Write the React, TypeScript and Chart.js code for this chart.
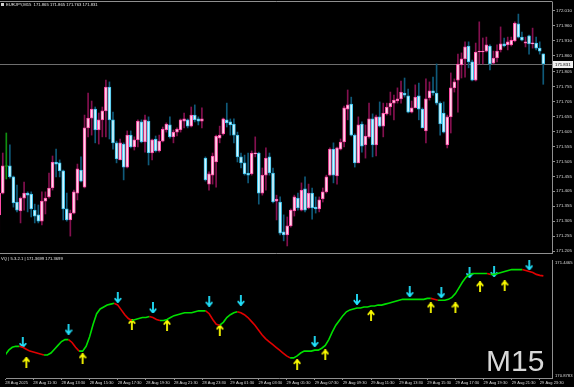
import React, { useEffect, useRef } from "react";
import { Chart, registerables } from "chart.js";
Chart.register(...registerables);

// ---------- DATA ----------
const OPENS = [
  171.326, 171.399, 171.488, 171.490, 171.453, 171.369, 171.339, 171.382, 171.399, 171.396,
  171.342, 171.326, 171.305, 171.372, 171.386, 171.416, 171.503, 171.500, 171.473, 171.346,
  171.309, 171.332, 171.399, 171.476, 171.419, 171.617, 171.650, 171.680, 171.610, 171.644,
  171.674, 171.754, 171.644, 171.567, 171.510, 171.563, 171.486, 171.593, 171.553, 171.577,
  171.637, 171.570, 171.640, 171.533, 171.580, 171.540, 171.573, 171.610, 171.627, 171.587,
  171.603, 171.610, 171.640, 171.644, 171.623, 171.660, 171.647, 171.640, 171.516, 171.429,
  171.459, 171.503, 171.583, 171.597, 171.644, 171.637, 171.630, 171.593, 171.520, 171.500,
  171.466, 171.463, 171.530, 171.533, 171.399, 171.459, 171.520, 171.466, 171.372, 171.369,
  171.269, 171.259, 171.289, 171.339, 171.382, 171.342, 171.413, 171.349, 171.399, 171.352,
  171.346, 171.379, 171.403, 171.459, 171.546, 171.456, 171.546, 171.570, 171.680, 171.697,
  171.593, 171.500, 171.630, 171.560, 171.587, 171.647, 171.560, 171.654, 171.623, 171.664,
  171.687, 171.700, 171.707, 171.714, 171.734, 171.724, 171.670, 171.684, 171.724, 171.680,
  171.607, 171.717, 171.741, 171.734, 171.700, 171.667, 171.560, 171.654, 171.751, 171.777,
  171.828, 171.848, 171.891, 171.838, 171.777, 171.871, 171.871, 171.874, 171.891, 171.834,
  171.851, 171.878, 171.898, 171.895, 171.895, 171.908, 171.965, 171.921, 171.901, 171.925,
  171.898, 171.901, 171.884, 171.865,
];
const HIGHS = [
  171.419, 171.533, 171.600, 171.560, 171.456, 171.426, 171.386, 171.436, 171.403, 171.403,
  171.362, 171.359, 171.403, 171.403, 171.466, 171.523, 171.546, 171.510, 171.476, 171.399,
  171.342, 171.409, 171.496, 171.520, 171.660, 171.734, 171.707, 171.687, 171.667, 171.687,
  171.777, 171.771, 171.670, 171.573, 171.580, 171.567, 171.607, 171.607, 171.587, 171.644,
  171.644, 171.660, 171.654, 171.580, 171.590, 171.593, 171.620, 171.634, 171.654, 171.610,
  171.617, 171.647, 171.667, 171.647, 171.687, 171.694, 171.654, 171.684, 171.520, 171.470,
  171.533, 171.593, 171.623, 171.650, 171.700, 171.647, 171.647, 171.603, 171.533, 171.526,
  171.533, 171.540, 171.587, 171.536, 171.483, 171.550, 171.533, 171.483, 171.392, 171.386,
  171.326, 171.319, 171.346, 171.392, 171.399, 171.433, 171.453, 171.429, 171.416, 171.386,
  171.386, 171.416, 171.459, 171.550, 171.567, 171.553, 171.580, 171.690, 171.744, 171.720,
  171.597, 171.654, 171.637, 171.627, 171.700, 171.664, 171.660, 171.704, 171.700, 171.700,
  171.737, 171.727, 171.751, 171.774, 171.784, 171.747, 171.707, 171.761, 171.767, 171.684,
  171.781, 171.771, 171.787, 171.831, 171.704, 171.704, 171.660, 171.801, 171.781, 171.864,
  171.868, 171.905, 171.905, 171.844, 171.901, 171.972, 171.918, 171.921, 171.895, 171.874,
  171.895, 171.955, 171.918, 171.921, 171.921, 171.972, 171.998, 171.938, 171.921, 171.928,
  171.951, 171.921, 171.905, 171.865,
];
const LOWS = [
  171.269, 171.396, 171.446, 171.449, 171.352, 171.336, 171.299, 171.342, 171.336, 171.319,
  171.299, 171.299, 171.292, 171.329, 171.382, 171.409, 171.453, 171.453, 171.309, 171.305,
  171.255, 171.329, 171.376, 171.436, 171.416, 171.587, 171.593, 171.567, 171.563, 171.587,
  171.587, 171.580, 171.546, 171.500, 171.510, 171.443, 171.483, 171.550, 171.543, 171.553,
  171.567, 171.536, 171.493, 171.510, 171.536, 171.536, 171.570, 171.603, 171.583, 171.567,
  171.590, 171.603, 171.617, 171.617, 171.620, 171.637, 171.627, 171.617, 171.439, 171.409,
  171.429, 171.419, 171.567, 171.593, 171.620, 171.593, 171.567, 171.503, 171.483, 171.459,
  171.433, 171.459, 171.520, 171.362, 171.392, 171.409, 171.459, 171.366, 171.309, 171.259,
  171.239, 171.222, 171.285, 171.322, 171.342, 171.339, 171.336, 171.346, 171.312, 171.332,
  171.336, 171.369, 171.399, 171.456, 171.433, 171.429, 171.543, 171.553, 171.644, 171.590,
  171.486, 171.500, 171.536, 171.516, 171.583, 171.520, 171.523, 171.620, 171.587, 171.660,
  171.660, 171.644, 171.700, 171.700, 171.720, 171.667, 171.667, 171.684, 171.644, 171.617,
  171.567, 171.710, 171.727, 171.694, 171.593, 171.600, 171.550, 171.600, 171.737, 171.670,
  171.784, 171.787, 171.818, 171.774, 171.774, 171.831, 171.831, 171.871, 171.811, 171.831,
  171.838, 171.871, 171.888, 171.878, 171.891, 171.905, 171.918, 171.908, 171.888, 171.864,
  171.884, 171.878, 171.864, 171.763,
];
const CLOSES = [
  171.399, 171.490, 171.488, 171.453, 171.366, 171.342, 171.382, 171.399, 171.392, 171.346,
  171.322, 171.305, 171.372, 171.382, 171.416, 171.503, 171.496, 171.473, 171.346, 171.309,
  171.332, 171.403, 171.480, 171.439, 171.617, 171.650, 171.680, 171.610, 171.644, 171.674,
  171.754, 171.644, 171.567, 171.513, 171.567, 171.486, 171.593, 171.553, 171.577, 171.640,
  171.570, 171.644, 171.533, 171.577, 171.540, 171.573, 171.613, 171.630, 171.587, 171.603,
  171.613, 171.644, 171.647, 171.623, 171.660, 171.644, 171.640, 171.647, 171.443, 171.463,
  171.523, 171.590, 171.593, 171.647, 171.634, 171.627, 171.593, 171.520, 171.500, 171.463,
  171.459, 171.533, 171.533, 171.399, 171.459, 171.516, 171.466, 171.369, 171.379, 171.265,
  171.259, 171.289, 171.342, 171.386, 171.349, 171.409, 171.342, 171.399, 171.349, 171.346,
  171.376, 171.403, 171.453, 171.546, 171.459, 171.550, 171.570, 171.684, 171.694, 171.593,
  171.500, 171.627, 171.556, 171.590, 171.647, 171.560, 171.654, 171.623, 171.667, 171.687,
  171.700, 171.710, 171.714, 171.737, 171.727, 171.670, 171.684, 171.720, 171.680, 171.617,
  171.714, 171.741, 171.734, 171.700, 171.630, 171.603, 171.654, 171.751, 171.771, 171.831,
  171.848, 171.888, 171.838, 171.777, 171.871, 171.874, 171.874, 171.895, 171.831, 171.851,
  171.874, 171.898, 171.891, 171.905, 171.911, 171.968, 171.921, 171.911, 171.905, 171.898,
  171.901, 171.884, 171.874, 171.831,
];

const PRICE_TICKS = [
  172.010, 171.960, 171.910, 171.860, 171.805, 171.755, 171.705, 171.655, 171.605,
  171.555, 171.505, 171.455, 171.405, 171.355, 171.305, 171.255, 171.205,
];

const TIME_TICK_INDEX = [0, 8, 16, 24, 32, 40, 48, 56, 64, 72, 80, 88, 96, 104, 112, 120, 128, 136, 144, 152];
const TIME_LABELS = [
  "28 Aug 2025", "28 Aug 11:30", "28 Aug 13:30", "28 Aug 15:30", "28 Aug 17:30",
  "28 Aug 19:30", "28 Aug 21:30", "28 Aug 23:30", "29 Aug 01:30", "29 Aug 03:30",
  "29 Aug 05:30", "29 Aug 07:30", "29 Aug 09:30", "29 Aug 11:30", "29 Aug 13:30",
  "29 Aug 15:30", "29 Aug 17:30", "29 Aug 19:30", "29 Aug 21:30", "29 Aug 23:30",
];

const VQ = [
  170.9893, 171.0123, 171.0262, 171.0308, 171.0308, 171.0262, 171.0170, 171.0077, 171.0031, 170.9985,
  170.9939, 170.9893, 170.9893, 170.9985, 171.0170, 171.0354, 171.0539, 171.0632, 171.0632, 171.0493,
  171.0262, 171.0077, 171.0077, 171.0308, 171.0770, 171.1370, 171.1878, 171.2109, 171.2202, 171.2294,
  171.2340, 171.2386, 171.2294, 171.2063, 171.1832, 171.1647, 171.1555, 171.1601, 171.1647, 171.1694,
  171.1694, 171.1740, 171.1694, 171.1601, 171.1555, 171.1555, 171.1601, 171.1694, 171.1786, 171.1832,
  171.1878, 171.1924, 171.1924, 171.1924, 171.1971, 171.2017, 171.2017, 171.2017, 171.1878, 171.1601,
  171.1370, 171.1324, 171.1463, 171.1694, 171.1832, 171.1924, 171.1971, 171.1924, 171.1832, 171.1694,
  171.1509, 171.1324, 171.1093, 171.0862, 171.0678, 171.0539, 171.0401, 171.0262, 171.0123, 170.9985,
  170.9846, 170.9754, 170.9754, 170.9846, 170.9985, 171.0077, 171.0077, 171.0077, 171.0123, 171.0123,
  171.0216, 171.0354, 171.0632, 171.1001, 171.1324, 171.1555, 171.1786, 171.1971, 171.2063, 171.2109,
  171.2155, 171.2155, 171.2202, 171.2202, 171.2248, 171.2248, 171.2294, 171.2294, 171.2340, 171.2386,
  171.2433, 171.2479, 171.2525, 171.2571, 171.2571, 171.2571, 171.2571, 171.2571, 171.2571, 171.2571,
  171.2617, 171.2617, 171.2571, 171.2525, 171.2525, 171.2525, 171.2571, 171.2664, 171.2848, 171.3126,
  171.3403, 171.3634, 171.3772, 171.3818, 171.3818, 171.3818, 171.3818, 171.3818, 171.3772, 171.3772,
  171.3818, 171.3865, 171.3911, 171.3957, 171.4003, 171.4003, 171.4003, 171.4003, 171.3957, 171.3911,
  171.3865, 171.3772, 171.3726, 171.3699,
];

const SELL_INDEX = [5, 18, 32, 42, 58, 67, 88, 100, 115, 124, 132, 139, 149];
const SELL_VALUE = [171.0493, 171.1139, 171.2664, 171.2155, 171.2479, 171.2525, 171.0539, 171.2571, 171.2941, 171.2895, 171.3865, 171.3911, 171.4234];
const BUY_INDEX = [6, 22, 36, 46, 61, 83, 91, 104, 121, 128, 135, 142];
const BUY_VALUE = [170.9523, 170.9707, 171.1370, 171.1324, 171.1093, 170.9430, 170.9893, 171.1786, 171.2155, 171.2155, 171.3172, 171.3218];

const IND_MAX = 171.4465;
const IND_MIN = 170.8783;
const IND_TICK_LABELS = ["171.4465", "170.8783"];

// ---------- LAYOUT / STYLE ----------
const W = 574;
const H = 387;
const AXIS_W = 22;
const MAIN_H = 254;
const IND_TOP = 254;
const IND_H = 133;
const X_MIN = 0.225;
const X_MAX = 155.455;
const MAIN_MAX = 172.0384;
const MAIN_MIN = 171.1984;
const FONT = "'Liberation Sans', Arial, sans-serif";
const AXIS_COLOR = "#8f8f8f";
const LABEL_COLOR = "#dcdcdc";

const BULL_FILL = "#ffd6ea";
const BULL_EDGE = "#ff4aa6";
const BULL_WICK = "#84104f";
const BEAR_FILL = "#d2f5ff";
const BEAR_EDGE = "#38c2ec";
const BEAR_WICK = "#0f5a7a";
const DOJI = "#109010";

function kind(i: number) {
  if (CLOSES[i] > OPENS[i]) return 1;
  if (CLOSES[i] < OPENS[i]) return -1;
  return 0;
}

function makeArrow(color: string, down: boolean) {
  const c = document.createElement("canvas");
  c.width = 8;
  c.height = 11;
  const g = c.getContext("2d")!;
  g.strokeStyle = color;
  g.lineWidth = 1.8;
  g.beginPath();
  if (down) {
    g.moveTo(4, 0);
    g.lineTo(4, 10);
    g.moveTo(0.8, 6.2);
    g.lineTo(4, 10.2);
    g.lineTo(7.2, 6.2);
  } else {
    g.moveTo(4, 11);
    g.lineTo(4, 1);
    g.moveTo(0.8, 4.8);
    g.lineTo(4, 0.8);
    g.lineTo(7.2, 4.8);
  }
  g.stroke();
  return c;
}

export default function App() {
  const mainRef = useRef<HTMLCanvasElement>(null);
  const indRef = useRef<HTMLCanvasElement>(null);

  useEffect(() => {
    const n = CLOSES.length;
    const wickData = HIGHS.map((h, i) => ({ x: i, y: [LOWS[i], h] }));
    const bodyData = OPENS.map((o, i) => ({ x: i, y: [Math.min(o, CLOSES[i]), Math.max(o, CLOSES[i])] }));
    const wickColors = OPENS.map((_, i) => (kind(i) > 0 ? BULL_WICK : kind(i) < 0 ? BEAR_WICK : DOJI));
    const bodyFill = OPENS.map((_, i) => (kind(i) > 0 ? BULL_FILL : kind(i) < 0 ? BEAR_FILL : DOJI));
    const bodyEdge = OPENS.map((_, i) => (kind(i) > 0 ? BULL_EDGE : kind(i) < 0 ? BEAR_EDGE : DOJI));

    const framePlugin = {
      id: "frame",
      afterDraw(chart: any) {
        const { ctx, chartArea } = chart;
        ctx.save();
        ctx.strokeStyle = AXIS_COLOR;
        ctx.lineWidth = 1;
        ctx.beginPath();
        ctx.moveTo(0, 1.5);
        ctx.lineTo(chartArea.right + 0.5, 1.5);
        ctx.moveTo(0, chartArea.bottom + 0.5);
        ctx.lineTo(chartArea.right + 0.5, chartArea.bottom + 0.5);
        ctx.stroke();
        ctx.restore();
      },
    };

    const pricePlugin = {
      id: "priceLine",
      beforeDatasetsDraw(chart: any) {
        const { ctx, chartArea, scales } = chart;
        const y = Math.round(scales.y.getPixelForValue(CLOSES[n - 1])) + 0.5;
        ctx.save();
        ctx.strokeStyle = "#6e6e6e";
        ctx.lineWidth = 1;
        ctx.beginPath();
        ctx.moveTo(chartArea.left, y);
        ctx.lineTo(chartArea.right, y);
        ctx.stroke();
        ctx.restore();
      },
      afterDraw(chart: any) {
        const { ctx, chartArea, scales } = chart;
        const y = Math.round(scales.y.getPixelForValue(CLOSES[n - 1]));
        ctx.save();
        ctx.fillStyle = "#f0f0f0";
        ctx.fillRect(chartArea.right + 1, y - 3, W - chartArea.right - 2, 7);
        ctx.fillStyle = "#000";
        ctx.font = `4.3px ${FONT}`;
        ctx.textBaseline = "middle";
        ctx.textAlign = "left";
        ctx.fillText(CLOSES[n - 1].toFixed(3), chartArea.right + 3, y + 0.5);
        ctx.restore();
      },
    };

    const main = new Chart(mainRef.current!, {
      type: "bar",
      data: {
        datasets: [
          {
            label: "body",
            data: bodyData as any,
            backgroundColor: bodyFill,
            borderColor: bodyEdge,
            borderWidth: 1,
            borderSkipped: false,
            barThickness: 3,
            minBarLength: 1,
            grouped: false,
            order: 0,
          } as any,
          {
            label: "wick",
            data: wickData as any,
            backgroundColor: wickColors,
            borderWidth: 0,
            barThickness: 1,
            grouped: false,
            order: 1,
          } as any,
        ],
      },
      options: {
        animation: false,
        responsive: false,
        maintainAspectRatio: false,
        devicePixelRatio: 1,
        layout: { padding: { top: 2, left: 0, right: 0, bottom: 1 } },
        plugins: { legend: { display: false }, tooltip: { enabled: false } },
        scales: {
          x: { type: "linear", min: X_MIN, max: X_MAX, display: false, offset: false },
          y: {
            type: "linear",
            position: "right",
            min: MAIN_MIN,
            max: MAIN_MAX,
            afterBuildTicks: (s: any) => {
              s.ticks = PRICE_TICKS.map((v) => ({ value: v }));
            },
            afterFit: (s: any) => {
              s.width = AXIS_W;
              s.paddingTop = 0;
              s.paddingBottom = 0;
            },
            grid: { drawOnChartArea: false, drawTicks: true, tickLength: 3, color: AXIS_COLOR },
            border: { display: true, color: AXIS_COLOR, width: 1 },
            ticks: {
              autoSkip: false,
              padding: 1,
              color: LABEL_COLOR,
              font: { family: FONT, size: 4.4 },
              callback: (v: any) => Number(v).toFixed(3),
            },
          },
        },
      } as any,
      plugins: [framePlugin, pricePlugin],
    });

    const downArrow = makeArrow("#22e4ff", true);
    const upArrow = makeArrow("#ffff00", false);

    const ind = new Chart(indRef.current!, {
      type: "line",
      data: {
        datasets: [
          {
            label: "VQ",
            data: VQ.map((v, i) => ({ x: i, y: v })),
            borderWidth: 1.6,
            pointRadius: 0,
            tension: 0,
            borderColor: "#00e000",
            segment: {
              borderColor: (c: any) => (c.p1.parsed.y >= c.p0.parsed.y ? "#00e000" : "#e00000"),
            },
          } as any,
          {
            label: "sell",
            data: SELL_INDEX.map((x, k) => ({ x, y: SELL_VALUE[k] })),
            showLine: false,
            pointStyle: downArrow,
            pointRadius: 5,
          } as any,
          {
            label: "buy",
            data: BUY_INDEX.map((x, k) => ({ x, y: BUY_VALUE[k] })),
            showLine: false,
            pointStyle: upArrow,
            pointRadius: 5,
          } as any,
        ],
      },
      options: {
        animation: false,
        responsive: false,
        maintainAspectRatio: false,
        devicePixelRatio: 1,
        layout: { padding: { top: 1, left: 0, right: 0, bottom: 0 } },
        plugins: { legend: { display: false }, tooltip: { enabled: false } },
        scales: {
          x: {
            type: "linear",
            min: X_MIN,
            max: X_MAX,
            position: "bottom",
            afterBuildTicks: (s: any) => {
              s.ticks = TIME_TICK_INDEX.map((v) => ({ value: v }));
            },
            afterFit: (s: any) => {
              s.height = 9;
              s.paddingLeft = 0;
              s.paddingRight = 0;
            },
            grid: { drawOnChartArea: false, drawTicks: true, tickLength: 2, color: AXIS_COLOR },
            border: { display: true, color: AXIS_COLOR, width: 1 },
            ticks: {
              autoSkip: false,
              maxRotation: 0,
              minRotation: 0,
              align: "start",
              padding: 0,
              color: LABEL_COLOR,
              font: { family: FONT, size: 4 },
              callback: (_v: any, idx: number) => TIME_LABELS[idx],
            },
          },
          y: {
            type: "linear",
            position: "right",
            min: IND_MIN,
            max: IND_MAX,
            afterBuildTicks: (s: any) => {
              const u = (IND_MAX - IND_MIN) / 123;
              s.ticks = [{ value: IND_MAX - 2.5 * u }, { value: IND_MIN + 2 * u }];
            },
            afterFit: (s: any) => {
              s.width = AXIS_W;
              s.paddingTop = 0;
              s.paddingBottom = 0;
            },
            grid: { drawOnChartArea: false, drawTicks: true, tickLength: 2, color: "rgba(0,0,0,0)" },
            border: { display: true, color: AXIS_COLOR, width: 1 },
            ticks: {
              autoSkip: false,
              padding: 1,
              color: LABEL_COLOR,
              font: { family: FONT, size: 4.2 },
              callback: (_v: any, idx: number) => IND_TICK_LABELS[idx],
            },
          },
        },
      } as any,
    });

    return () => {
      main.destroy();
      ind.destroy();
    };
  }, []);

  return (
    <div
      style={{
        position: "fixed",
        left: 0,
        top: 0,
        width: W,
        height: H,
        background: "#000",
        overflow: "hidden",
        fontFamily: FONT,
      }}
    >
      <canvas ref={mainRef} width={W} height={MAIN_H} style={{ position: "absolute", left: 0, top: 0, width: W, height: MAIN_H }} />
      <canvas ref={indRef} width={W} height={IND_H} style={{ position: "absolute", left: 0, top: IND_TOP, width: W, height: IND_H }} />
      <div style={{ position: "absolute", left: 1, top: 3, width: 3, height: 3, background: "#cfcfcf" }} />
      <div style={{ position: "absolute", left: 6, top: 2, fontSize: 4.2, lineHeight: "5px", color: "#e6e6e6", whiteSpace: "pre" }}>
        EURJPY,M15  171.865 171.865 171.763 171.831
      </div>
      <div style={{ position: "absolute", left: 1, top: 256, fontSize: 4.2, lineHeight: "5px", color: "#e6e6e6", whiteSpace: "pre" }}>
        VQ | 5.3.2.1 | 171.3699 171.3699
      </div>
      <div style={{ position: "absolute", left: 486, top: 345.5, fontSize: 30, lineHeight: "30px", color: "#d8d8d8", whiteSpace: "pre" }}>
        M15
      </div>
    </div>
  );
}
